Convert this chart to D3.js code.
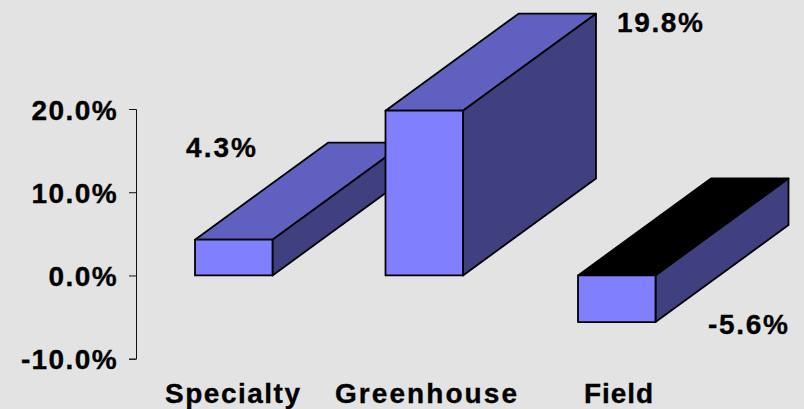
<!DOCTYPE html>
<html>
<head>
<meta charset="utf-8">
<script src="https://cdn.jsdelivr.net/npm/d3@7"></script>
<style>
html, body { margin: 0; padding: 0; background: #e3e3e3; }
svg { display: block; }
text { font-family: "Liberation Sans", Arial, sans-serif; font-weight: bold; font-size: 28px; fill: #000; stroke: #000; stroke-width: 0.35px; }
</style>
</head>
<body>
<svg id="chart" width="804" height="409"></svg>
<script>
var categories = ["Specialty", "Greenhouse", "Field"];
var values = [4.3, 19.8, -5.6];
var valueLabels = ["4.3%", "19.8%", "-5.6%"];
var yTicks = [-10, 0, 10, 20];

// depth of the fake 3d extrusion, in pixels
var depthX = 133, depthY = 97;
var barWidth = 77.5;
var barLefts = [195, 385.5, 578];
// text boxes measured on the picture, one per label
var labelX = [186, 617, 708];
var labelY = [157, 32, 334];
var labelW = [70, 86, 80];
var catX = [165, 335, 584];
var catW = [135, 182, 69];

var svg = d3.select("#chart");

var x = d3.scaleOrdinal()
    .domain(categories)
    .range(barLefts);

var y = d3.scaleLinear()
    .domain([-10, 20])
    .range([358.7, 109]);

var yAxis = d3.axisLeft(y)
    .tickValues(yTicks)
    .tickSize(7)
    .tickSizeOuter(7)
    .tickPadding(11)
    .tickFormat(function (d) { return d.toFixed(1) + "%"; });

var axisG = svg.append("g")
    .attr("transform", "translate(136,0)")
    .call(yAxis);
axisG.selectAll("path, line").attr("stroke", "#111").attr("stroke-width", 1);
axisG.selectAll("text")
    .attr("dy", "0.36em")
    .style("letter-spacing", "1.4px");
axisG.attr("font-size", null).attr("font-family", null);

function poly(points) {
    return points.map(function (p) { return p[0] + "," + p[1]; }).join(" ");
}

categories.forEach(function (cat, i) {
    var left = x(cat);
    var right = left + barWidth;
    var top = y(Math.max(values[i], 0));
    var bottom = y(Math.min(values[i], 0));
    var g = svg.append("g").attr("class", "bar");

    // negative bar shows its dark underside on top
    g.append("polygon")
        .attr("points", poly([[left, top], [left + depthX, top - depthY], [right + depthX, top - depthY], [right, top]]))
        .attr("fill", values[i] < 0 ? "#000000" : "#6060c0");
    g.append("polygon")
        .attr("points", poly([[right, top], [right + depthX, top - depthY], [right + depthX, bottom - depthY], [right, bottom]]))
        .attr("fill", "#404080");
    g.append("rect")
        .attr("x", left)
        .attr("y", top)
        .attr("width", right - left)
        .attr("height", bottom - top)
        .attr("fill", "#8080ff");
    g.selectAll("polygon, rect")
        .attr("stroke", "#000")
        .attr("stroke-width", 1.8)
        .attr("stroke-linejoin", "round");
});

svg.selectAll(".valueLabel")
    .data(valueLabels)
    .enter().append("text")
    .attr("class", "valueLabel")
    .attr("x", function (d, i) { return labelX[i]; })
    .attr("y", function (d, i) { return labelY[i]; })
    .attr("textLength", function (d, i) { return labelW[i]; })
    .text(function (d) { return d; });

svg.selectAll(".catLabel")
    .data(categories)
    .enter().append("text")
    .attr("class", "catLabel")
    .attr("x", function (d, i) { return catX[i]; })
    .attr("y", 403)
    .attr("textLength", function (d, i) { return catW[i]; })
    .text(function (d) { return d; });
</script>
</body>
</html>
